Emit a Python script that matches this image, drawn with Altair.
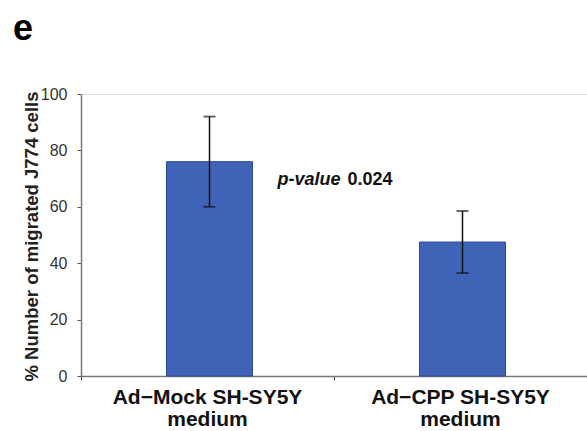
import altair as alt
import pandas as pd

# Migration assay: mean percentage of migrated J774 cells with error bars
label_line1 = ["Ad\u2212Mock SH-SY5Y", "Ad\u2212CPP SH-SY5Y"]
label_line2 = ["medium", "medium"]
means = [76, 47.5]
errors = [16, 11]

p_label = "p-value"
p_number = "0.024"
p_y = 69.5

FONT = "Liberation Sans, Arial, Helvetica, sans-serif"
BAR_FILL = "#3F63B7"
BAR_EDGE = "#2E4A92"

groups = [a + "|" + b for a, b in zip(label_line1, label_line2)]
df = pd.DataFrame({
    "group": groups,
    "mean": means,
    "lo": [m - e for m, e in zip(means, errors)],
    "hi": [m + e for m, e in zip(means, errors)],
})
p_df = pd.DataFrame({"group": [groups[0]], "y": [p_y],
                     "label": [p_label], "num": [p_number]})

x_enc = alt.X(
    "group:N",
    sort=groups,
    scale=alt.Scale(paddingInner=0, paddingOuter=0),
    axis=alt.Axis(
        title=None,
        labelExpr="split(datum.label, '|')",
        labelAngle=0,
        labelLimit=0,
        labelFont=FONT,
        labelFontSize=21,
        labelFontWeight="bold",
        labelColor="#111111",
        labelLineHeight=22,
        labelPadding=6,
        bandPosition=0,
        tickSize=4,
        tickColor="#555555",
        domainColor="#777777",
        domainWidth=1.5,
    ),
)

y_scale = alt.Scale(domain=[0, 100], nice=False)

bars = alt.Chart(df).mark_bar(
    size=86, color=BAR_FILL, stroke=BAR_EDGE, strokeWidth=1, xOffset=2
).encode(
    x=x_enc,
    y=alt.Y(
        "mean:Q",
        scale=y_scale,
        axis=alt.Axis(
            title="% Number of migrated J774 cells",
            titleFont=FONT,
            titleFontSize=18.5,
            titleFontWeight="bold",
            titleColor="#222222",
            titleX=-44,
            titleY=142,
            titleAlign="center",
            titleBaseline="alphabetic",
            titleAngle=270,
            values=[0, 20, 40, 60, 80, 100],
            labelFont=FONT,
            labelFontSize=16,
            labelColor="#333333",
            labelPadding=10,
            tickSize=4,
            tickColor="#555555",
            domainColor="#777777",
            domainWidth=1.5,
            grid=False,
        ),
    ),
)

err_rule = alt.Chart(df).mark_rule(color="#111111", strokeWidth=1.5, xOffset=2).encode(
    x=alt.X("group:N", sort=groups),
    y="lo:Q",
    y2="hi:Q",
)
cap_hi = alt.Chart(df).mark_tick(color="#111111", size=12, thickness=1.8, xOffset=2).encode(
    x=alt.X("group:N", sort=groups), y="hi:Q"
)
cap_lo = alt.Chart(df).mark_tick(color="#111111", size=12, thickness=1.8, xOffset=2).encode(
    x=alt.X("group:N", sort=groups), y="lo:Q"
)

p_text = alt.Chart(p_df).mark_text(
    align="left", baseline="middle", dx=70, font=FONT, fontSize=18,
    fontWeight="bold", fontStyle="italic", color="#111111"
).encode(x=alt.X("group:N", sort=groups), y="y:Q", text="label:N")

p_num = alt.Chart(p_df).mark_text(
    align="left", baseline="middle", dx=140, font=FONT, fontSize=18,
    fontWeight="bold", color="#111111"
).encode(x=alt.X("group:N", sort=groups), y="y:Q", text="num:N")

chart = alt.layer(bars, err_rule, cap_hi, cap_lo, p_text, p_num).properties(
    width=506,
    height=282,
    autosize=alt.AutoSizeParams(type="none"),
    padding={"left": 81, "top": 94, "right": 0, "bottom": 55},
    title=alt.TitleParams(
        "e", anchor="start", frame="group", font=FONT, fontSize=36,
        fontWeight="bold", color="#000000", dx=-68, dy=-34,
    ),
).configure_view(stroke=None).configure(background="white")

chart.save("out.html", embed_options={"renderer": "svg", "actions": False})
